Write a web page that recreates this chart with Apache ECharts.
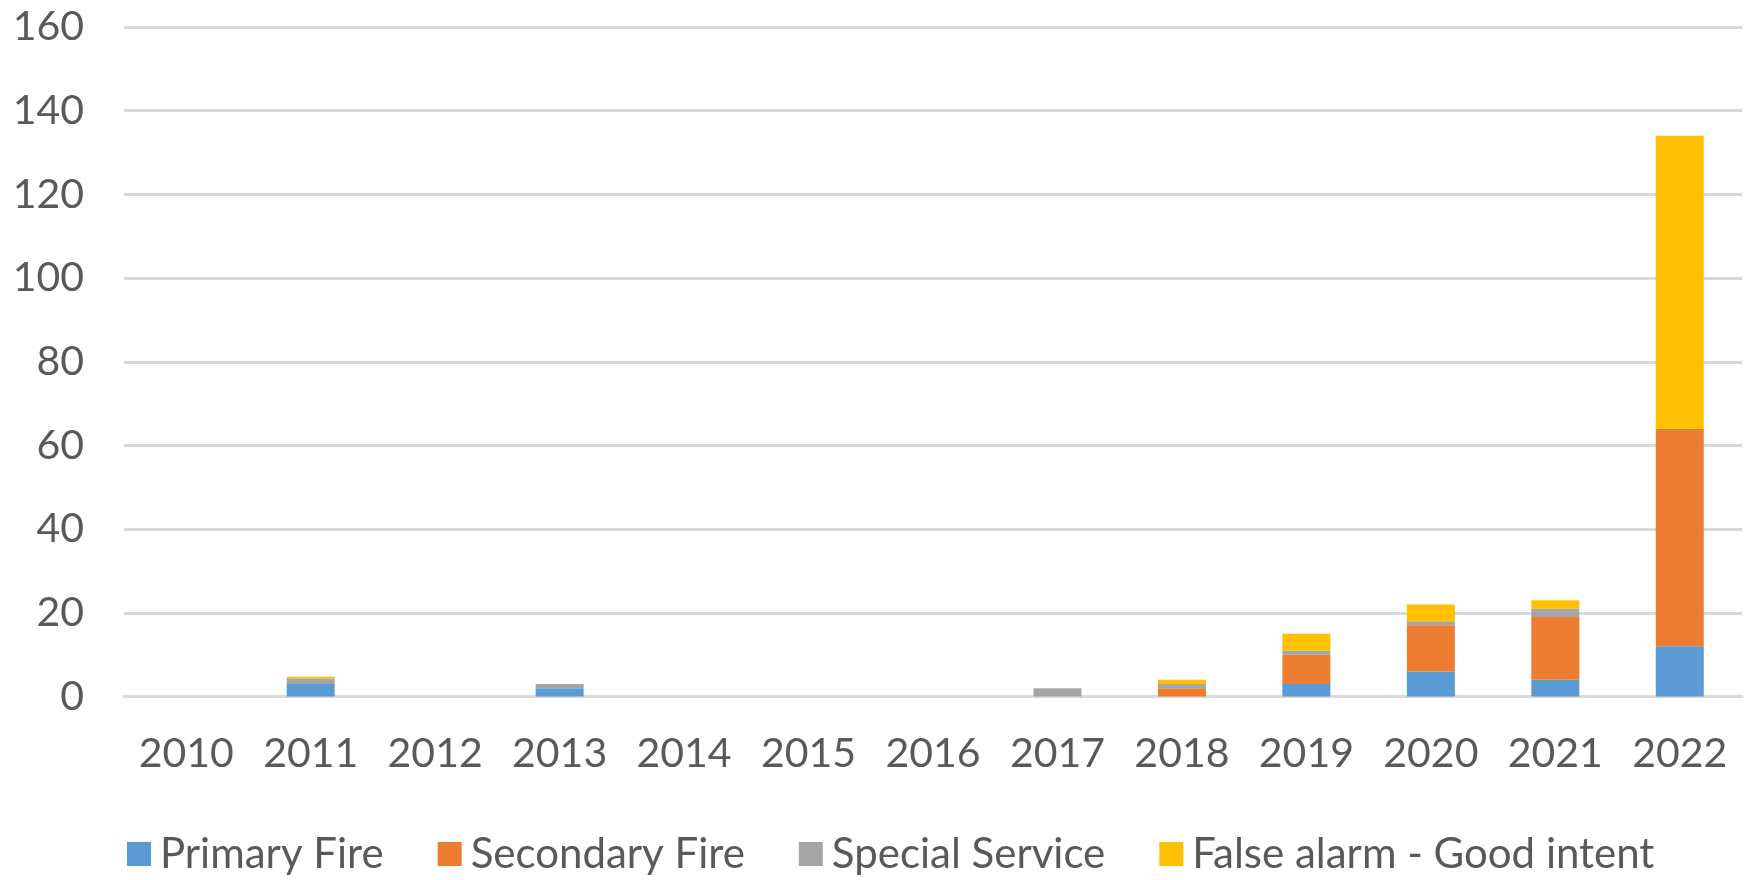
<!DOCTYPE html>
<html>
<head>
<meta charset="utf-8">
<script src="https://cdn.jsdelivr.net/npm/echarts@6/dist/echarts.min.js"></script>
<style>
html,body{margin:0;padding:0;background:#fff;}
#chart{width:1750px;height:880px;}
</style>
</head>
<body>
<div id="chart"></div>
<script>
const years = ['2010','2011','2012','2013','2014','2015','2016','2017','2018','2019','2020','2021','2022'];
const primaryFire   = [0, 3,   0, 2, 0, 0, 0, 0, 0, 3, 6, 4, 12];
const secondaryFire = [0, 0,   0, 0, 0, 0, 0, 0, 2, 7, 11, 15, 52];
const specialService= [0, 1.3, 0, 1, 0, 0, 0, 2, 1, 1, 1, 2, 0];
const falseAlarm    = [0, 0.4, 0, 0, 0, 0, 0, 0, 1, 4, 4, 2, 70];
const seriesNames = ['Primary Fire','Secondary Fire','Special Service','False alarm - Good intent'];
const seriesColors = ['#5B9BD5','#ED7D31','#A5A5A5','#FFC000'];
const yTicks = {min:0, max:160, interval:20};

const chart = echarts.init(document.getElementById('chart'));
const font = 'Lato, "Open Sans", sans-serif';
const data = [primaryFire, secondaryFire, specialService, falseAlarm];
chart.setOption({
  animation:false,
  grid:{left:124, right:8, top:27, bottom:183.5},
  legend:{
    bottom:0, left:122, itemWidth:24, itemHeight:24, itemGap:54,
    icon:'rect',
    textStyle:{color:'#595959', fontSize:42, fontFamily:font, padding:[0,0,0,4]},
    data:seriesNames
  },
  xAxis:{
    type:'category', data:years,
    axisLine:{show:true, lineStyle:{color:'#d9d9d9', width:3}},
    axisTick:{show:false},
    axisLabel:{color:'#595959', fontSize:41, fontFamily:font, margin:37}
  },
  yAxis:{
    type:'value', min:yTicks.min, max:yTicks.max, interval:yTicks.interval,
    axisLine:{show:false}, axisTick:{show:false},
    splitLine:{lineStyle:{color:'#d9d9d9', width:3}},
    axisLabel:{color:'#595959', fontSize:41, fontFamily:font, margin:40}
  },
  series: seriesNames.map((n,i)=>({
    name:n, type:'bar', stack:'total', data:data[i], barWidth:48,
    itemStyle:{color:seriesColors[i]}
  }))
});
</script>
</body>
</html>
